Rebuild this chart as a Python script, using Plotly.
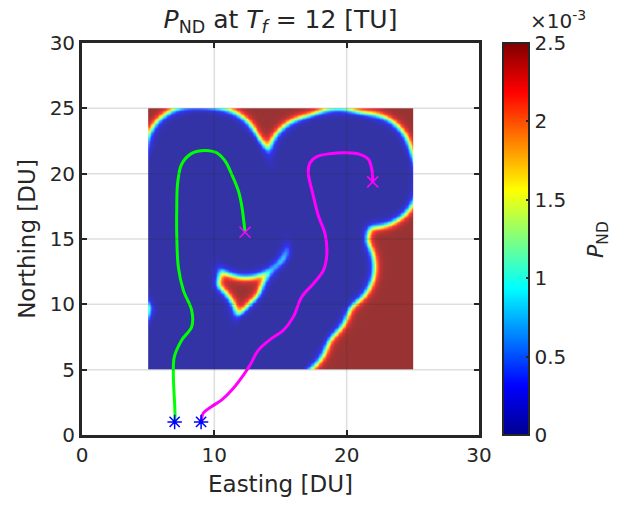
import numpy as np
import plotly.graph_objects as go

# ---------------- data ----------------
# searcher trajectories (Easting, Northing) [DU]
green_x = [7.0, 7.03, 6.95, 6.9, 6.98, 7.53, 8.29, 8.29, 7.66, 7.28, 7.16, 7.16, 7.23, 7.53,
           8.29, 9.3, 10.18, 10.81, 11.31, 11.82, 12.07, 12.32]
green_y = [1.0, 1.55, 3.33, 4.85, 5.99, 7.26, 8.28, 9.54, 11.07, 12.85, 15.38, 17.29, 19.32, 20.72,
           21.55, 21.78, 21.6, 20.97, 19.95, 18.68, 17.54, 15.51]
magenta_x = [9.0, 9.17, 9.8, 10.56, 11.44, 12.2, 12.7, 13.33, 14.34, 15.22, 15.97, 16.6, 17.48, 18.24,
             18.5, 18.37, 17.86, 17.48, 17.1, 17.23, 17.74, 18.75, 20.0, 21.0, 21.64, 21.9, 21.97]
magenta_y = [1.0, 1.68, 2.18, 2.69, 3.58, 4.59, 5.35, 6.5, 7.39, 8.02, 9.04, 10.56, 11.58, 12.59,
             13.86, 15.38, 16.78, 18.3, 20.08, 20.84, 21.3, 21.53, 21.6, 21.48, 21.1, 20.33, 19.37]

# sensor glimpse positions (detection footprints) [DU]
green_glimpse_x = [7.0, 6.95, 7.0, 8.3, 7.0, 7.16, 7.3, 8.2, 10.0, 11.2, 12.0, 12.32]
green_glimpse_y = [1.0, 3.6, 6.0, 8.6, 12.8, 16.0, 19.0, 21.75, 21.65, 19.9, 17.7, 15.51]
magenta_glimpse_x = [9.0, 10.3, 12.2, 13.6, 15.2, 16.8, 18.65, 18.3, 17.6, 17.4, 19.3, 21.45, 21.97]
magenta_glimpse_y = [1.0, 2.4, 4.6, 6.3, 7.8, 10.3, 12.9, 16.4, 18.9, 21.0, 21.6, 21.2, 19.37]

search_area = [5.0, 25.0]          # square search region [DU]
prior_pnd = 1.0 / 400.0            # uniform prior over 20x20 DU
sensor_range = 3.42
sensor_edge = 0.16

x_ticks = [0, 10, 20, 30]
y_ticks = [0, 5, 10, 15, 20, 25, 30]
cb_tickvals = [0, 0.0005, 0.001, 0.0015, 0.002, 0.0025]
cb_ticktext = ["0", "0.5", "1", "1.5", "2", "2.5"]

# ---------------- P_ND field ----------------
n = 200
step = (search_area[1] - search_area[0]) / n
gx = search_area[0] + step * (np.arange(n) + 0.5)
gy = search_area[0] + step * (np.arange(n) + 0.5)
XX, YY = np.meshgrid(gx, gy)
pnd = np.full_like(XX, prior_pnd)
for xs, ys in ((green_glimpse_x, green_glimpse_y), (magenta_glimpse_x, magenta_glimpse_y)):
    for cx, cy in zip(xs, ys):
        d = np.hypot(XX - cx, YY - cy)
        pd = 1.0 / (1.0 + np.exp((d - sensor_range) / sensor_edge))
        pnd *= (1.0 - pd)
pnd = np.round(pnd, 7)

jet = [[0.0, "rgb(0,0,143)"], [0.125, "rgb(0,0,255)"], [0.375, "rgb(0,255,255)"],
       [0.625, "rgb(255,255,0)"], [0.875, "rgb(255,0,0)"], [1.0, "rgb(128,0,0)"]]

ink = "#262626"
font = "DejaVu Sans"

fig = go.Figure()
fig.add_trace(go.Heatmap(
    x=gx, y=gy, z=pnd, colorscale=jet, zmin=0, zmax=0.0025, opacity=0.8,
    zsmooth="best", hoverinfo="skip",
    colorbar=dict(
        x=1.0605, xanchor="left", xref="paper", xpad=0, ypad=0,
        y=0.5, yanchor="middle", len=1.0, lenmode="fraction",
        thickness=26, thicknessmode="pixels", outlinecolor=ink, outlinewidth=2,
        ticks="inside", ticklen=4, tickwidth=1.5, tickcolor=ink,
        tickvals=cb_tickvals, ticktext=cb_ticktext,
        tickfont=dict(family=font, size=20, color=ink),
    ),
))
fig.add_trace(go.Scatter(x=green_x, y=green_y, mode="lines",
                         line=dict(color="rgb(0,255,0)", width=3, shape="spline"),
                         hoverinfo="skip", showlegend=False))
fig.add_trace(go.Scatter(x=magenta_x, y=magenta_y, mode="lines",
                         line=dict(color="rgb(255,0,255)", width=3, shape="spline"),
                         hoverinfo="skip", showlegend=False))
fig.add_trace(go.Scatter(x=[green_x[0], magenta_x[0]], y=[green_y[0], magenta_y[0]], mode="markers",
                         marker=dict(symbol="asterisk-open", size=12, color="rgb(0,0,255)",
                                     line=dict(color="rgb(0,0,255)", width=1.5)),
                         hoverinfo="skip", showlegend=False))
fig.add_trace(go.Scatter(x=[green_x[-1], magenta_x[-1]], y=[green_y[-1], magenta_y[-1]], mode="markers",
                         marker=dict(symbol="x-thin-open", size=11, color="rgb(255,0,255)",
                                     line=dict(color="rgb(255,0,255)", width=1.5)),
                         hoverinfo="skip", showlegend=False))

grid_color = "rgba(38,38,38,0.15)"
for v in x_ticks[1:-1]:
    fig.add_shape(type="line", xref="x", yref="paper", x0=v, x1=v, y0=0, y1=1,
                  line=dict(color=grid_color, width=1.5), layer="above")
for v in y_ticks[1:-1]:
    fig.add_shape(type="line", xref="paper", yref="y", x0=0, x1=1, y0=v, y1=v,
                  line=dict(color=grid_color, width=1.5), layer="above")

axis_common = dict(showgrid=False, zeroline=False, showline=True, linewidth=2.8, linecolor=ink,
                   mirror="ticks", ticks="inside", ticklen=5, tickwidth=1.5, tickcolor=ink,
                   tickfont=dict(family=font, size=20, color=ink))
fig.update_xaxes(range=[0, 30], tickvals=x_ticks, **axis_common,
                 title=dict(text="Easting [DU]", font=dict(family=font, size=23, color=ink), standoff=10))
fig.update_yaxes(range=[0, 30], tickvals=y_ticks, **axis_common,
                 title=dict(text="Northing [DU]", font=dict(family=font, size=23, color=ink), standoff=8))

fig.add_annotation(text="×10<sup>-3</sup>", xref="paper", yref="paper", x=1.124, y=1.059,
                   xanchor="left", yanchor="middle", showarrow=False,
                   font=dict(family=font, size=20, color=ink))
fig.add_annotation(text="<i>P</i><sub>ND</sub>", xref="paper", yref="paper", x=1.297, y=0.5,
                   xanchor="center", yanchor="middle", textangle=-90, showarrow=False,
                   font=dict(family=font, size=22, color=ink))

fig.update_layout(
    width=636, height=505,
    margin=dict(l=82, r=157, t=43, b=68),
    paper_bgcolor="white", plot_bgcolor="white",
    showlegend=False,
    title=dict(text="<i>P</i><sub>ND</sub> at <i>T<sub>f</sub></i> = 12 [TU]",
               x=0.5, xref="paper", xanchor="center", y=0.962, yref="container", yanchor="middle",
               font=dict(family=font, size=25, color=ink)),
)

fig.write_html("out.html")
